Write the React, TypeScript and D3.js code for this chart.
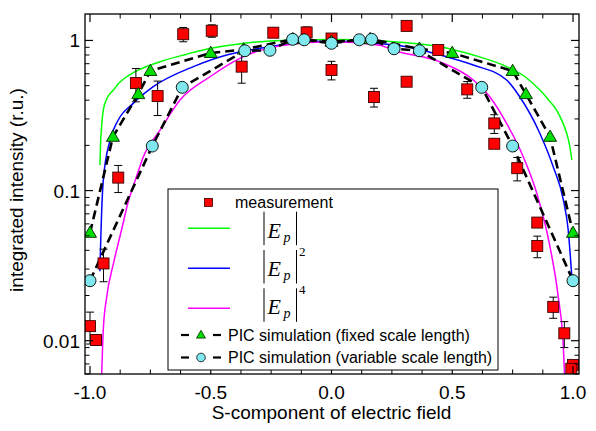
import React from "react";
import * as d3 from "d3";

// Measured integrated intensity with error bars
const measX = [-1.0, -0.975, -0.944, -0.883, -0.81, -0.72, -0.614, -0.496, -0.372, -0.241, -0.103, 0.0, 0.0, 0.176, 0.311, 0.311, 0.442, 0.562, 0.674, 0.674, 0.769, 0.852, 0.852, 0.918, 0.964, 1.0, 0.993];
const measY = [0.0125, 0.0101, 0.0327, 0.122, 0.52, 0.426, 1.1, 1.16, 0.669, 1.126, 1.13, 1.03, 0.636, 0.42, 1.25, 0.531, 0.864, 0.472, 0.28, 0.205, 0.141, 0.0612, 0.0427, 0.0168, 0.0112, 0.0069, 0.0065];
const measErr = [0.003, 0.0008, 0.008, 0.025, 0.13, 0.11, 0.12, 0.11, 0.15, 0.05, 0.1, 0.05, 0.09, 0.06, 0.04, 0.03, 0.05, 0.06, 0.04, 0.01, 0.025, 0.003, 0.007, 0.0027, 0.0022, 0.0004, 0.0004];

// PIC simulation, fixed scale length
const fixedX = [-1.0, -0.905, -0.8, -0.75, -0.5, -0.364, -0.16, 0.0, 0.16, 0.364, 0.5, 0.75, 0.805, 0.905, 1.0];
const fixedY = [0.0523, 0.228, 0.439, 0.626, 0.825, 0.87, 1.02, 0.98, 1.02, 0.88, 0.825, 0.626, 0.439, 0.228, 0.0523];

// PIC simulation, variable scale length
const varX = [-1.0, -0.742, -0.618, -0.359, -0.255, -0.161, -0.113, 0.0, 0.115, 0.166, 0.259, 0.364, 0.622, 0.75, 1.0];
const varY = [0.0251, 0.198, 0.487, 0.854, 0.86, 1.017, 1.01, 0.957, 1.01, 1.017, 0.88, 0.854, 0.487, 0.198, 0.0251];

// |Ep|
const ep1X = [-0.959, -0.956, -0.952, -0.945, -0.93, -0.903, -0.88, -0.848, -0.8, -0.71, -0.6, -0.5, -0.4, -0.296, -0.2, -0.1, 0.0, 0.1, 0.2, 0.311, 0.449, 0.587, 0.725, 0.8, 0.863, 0.9, 0.932, 0.955, 0.974, 0.986, 0.995];
const ep1Y = [0.148, 0.21, 0.266, 0.343, 0.41, 0.467, 0.52, 0.573, 0.635, 0.722, 0.81, 0.886, 0.94, 0.981, 1.0, 1.01, 1.015, 1.01, 0.995, 0.965, 0.909, 0.8, 0.669, 0.575, 0.467, 0.4, 0.343, 0.29, 0.24, 0.2, 0.16];

// |Ep|^2
const ep2X = [-0.959, -0.955, -0.952, -0.945, -0.917, -0.883, -0.821, -0.738, -0.572, -0.434, -0.296, -0.15, 0.0, 0.15, 0.311, 0.449, 0.587, 0.725, 0.78, 0.863, 0.918, 0.96, 0.98, 0.995];
const ep2Y = [0.029, 0.05, 0.0705, 0.117, 0.217, 0.295, 0.381, 0.492, 0.669, 0.8, 0.886, 0.96, 0.99, 0.965, 0.909, 0.8, 0.686, 0.545, 0.42, 0.24, 0.144, 0.0866, 0.0548, 0.0267];

// |Ep|^4
const ep4X = [-0.953, -0.945, -0.931, -0.903, -0.869, -0.841, -0.814, -0.779, -0.71, -0.627, -0.503, -0.365, -0.2, 0.0, 0.2, 0.256, 0.449, 0.587, 0.656, 0.725, 0.794, 0.85, 0.905, 0.939, 0.96, 0.967];
const ep4Y = [0.005, 0.0118, 0.0195, 0.0326, 0.055, 0.085, 0.115, 0.168, 0.253, 0.401, 0.573, 0.78, 0.93, 0.98, 0.93, 0.86, 0.72, 0.545, 0.42, 0.28, 0.168, 0.096, 0.042, 0.0195, 0.0091, 0.005];

const xTicks = [-1.0, -0.5, 0.0, 0.5, 1.0];
const xTickLabels = ["-1.0", "-0.5", "0.0", "0.5", "1.0"];
const yTicks = [0.01, 0.1, 1];
const yTickLabels = ["0.01", "0.1", "1"];

const SANS = "Arial, 'Liberation Sans', Helvetica, sans-serif";
const SERIF = "'Times New Roman', 'Liberation Serif', serif";

const GREEN = "#00ff00";
const BLUE = "#0000ff";
const MAGENTA = "#ff00ff";
const SQ_FILL = "#ff0000";
const TRI_FILL = "#00dd00";
const CIR_FILL = "#7fe8ee";

const L = 85, R = 579, T = 14, B = 374;

function tri(cx: number, cy: number, s: number) {
  const h = s * 0.866;
  return `M${cx},${cy - h * 0.6}L${cx + s / 2},${cy + h * 0.4}L${cx - s / 2},${cy + h * 0.4}Z`;
}

export default function App() {
  const x = d3.scaleLinear().domain([-1.0207, 1.0248]).range([L, R]);
  const y = d3.scaleLog().domain([0.006, 1.5]).range([B, T]);

  const pts = (xs: number[], ys: number[]) => xs.map((v, i) => [v, ys[i]] as [number, number]);
  const curve = d3.line<[number, number]>().x(d => x(d[0])).y(d => y(d[1])).curve(d3.curveMonotoneX);
  const straight = d3.line<[number, number]>().x(d => x(d[0])).y(d => y(d[1]));

  const xMinor = d3.range(-1, 1.0001, 0.125).filter(v => !xTicks.some(t => Math.abs(t - v) < 1e-6));
  const yMinor: number[] = [];
  [0.001, 0.01, 0.1].forEach(dec => {
    for (let k = 2; k <= 9; k++) {
      const v = dec * k;
      if (v >= 0.006 && v <= 1.5) yMinor.push(v);
    }
  });

  const sq = 11;

  return (
    <div style={{ position: "absolute", left: 0, top: 0 }}>
      <svg width={596} height={431} style={{ display: "block", background: "#fff" }}>
        <defs>
          <clipPath id="plotArea">
            <rect x={L} y={T} width={R - L} height={B - T} />
          </clipPath>
        </defs>

        <g clipPath="url(#plotArea)">
          <path d={curve(pts(ep1X, ep1Y)) || ""} fill="none" stroke={GREEN} strokeWidth={1.5} />
          <path d={curve(pts(ep2X, ep2Y)) || ""} fill="none" stroke={BLUE} strokeWidth={1.5} />
          <path d={curve(pts(ep4X, ep4Y)) || ""} fill="none" stroke={MAGENTA} strokeWidth={1.5} />
          <path d={straight(pts(fixedX, fixedY)) || ""} fill="none" stroke="#000" strokeWidth={2.6} strokeDasharray="9 5" />
          <path d={straight(pts(varX, varY)) || ""} fill="none" stroke="#000" strokeWidth={2.6} strokeDasharray="9 5" />

          {measX.map((mx, i) => {
            const cx = x(mx);
            const top = y(measY[i] + measErr[i]);
            const lo = measY[i] - measErr[i];
            const bot = lo > 0.006 ? y(lo) : B + 5;
            return (
              <g key={"e" + i} stroke="#000" strokeWidth={1}>
                <line x1={cx} x2={cx} y1={top} y2={bot} />
                <line x1={cx - 4} x2={cx + 4} y1={top} y2={top} />
                <line x1={cx - 4} x2={cx + 4} y1={bot} y2={bot} />
              </g>
            );
          })}
          {measX.map((mx, i) => (
            <rect key={"m" + i} x={x(mx) - sq / 2} y={y(measY[i]) - sq / 2} width={sq} height={sq}
              fill={SQ_FILL} stroke="#3a0000" strokeWidth={0.9} />
          ))}
          {fixedX.map((fx, i) => (
            <path key={"t" + i} d={tri(x(fx), y(fixedY[i]), 13)} fill={TRI_FILL} stroke="#002800" strokeWidth={0.9} />
          ))}
          {varX.map((vx, i) => (
            <circle key={"c" + i} cx={x(vx)} cy={y(varY[i])} r={6} fill={CIR_FILL} stroke="#000" strokeWidth={0.9} />
          ))}
        </g>

        {/* frame */}
        <rect x={L} y={T} width={R - L} height={B - T} fill="none" stroke="#000" strokeWidth={1.3} />

        {/* x ticks, bottom and top */}
        {xTicks.map(t => (
          <g key={"xt" + t} stroke="#000" strokeWidth={1.2}>
            <line x1={x(t)} x2={x(t)} y1={B} y2={B - 8} />
            <line x1={x(t)} x2={x(t)} y1={T} y2={T + 8} />
          </g>
        ))}
        {xMinor.map(t => (
          <g key={"xm" + t} stroke="#000" strokeWidth={1}>
            <line x1={x(t)} x2={x(t)} y1={B} y2={B - 4.5} />
            <line x1={x(t)} x2={x(t)} y1={T} y2={T + 4.5} />
          </g>
        ))}
        {xTicks.map((t, i) => (
          <text key={"xl" + t} x={x(t)} y={399} textAnchor="middle" fontFamily={SANS} fontSize={19}>{xTickLabels[i]}</text>
        ))}

        {/* y ticks, left and right */}
        {yTicks.map(t => (
          <g key={"yt" + t} stroke="#000" strokeWidth={1.2}>
            <line x1={L} x2={L + 8} y1={y(t)} y2={y(t)} />
            <line x1={R} x2={R - 8} y1={y(t)} y2={y(t)} />
          </g>
        ))}
        {yMinor.map(t => (
          <g key={"ym" + t} stroke="#000" strokeWidth={1}>
            <line x1={L} x2={L + 4.5} y1={y(t)} y2={y(t)} />
            <line x1={R} x2={R - 4.5} y1={y(t)} y2={y(t)} />
          </g>
        ))}
        {yTicks.map((t, i) => (
          <text key={"yl" + t} x={80} y={y(t) + 7} textAnchor="end" fontFamily={SANS} fontSize={19}>{yTickLabels[i]}</text>
        ))}

        {/* axis titles */}
        <text x={x(0)} y={419} textAnchor="middle" fontFamily={SANS} fontSize={19}>S-component of electric field</text>
        <text transform="translate(23, 190) rotate(-90)" textAnchor="middle" fontFamily={SANS} fontSize={19}>integrated intensity (r.u.)</text>

        {/* legend */}
        <g>
          <rect x={168} y={189} width={330} height={181} fill="#fff" stroke="#000" strokeWidth={1} />
          <rect x={204.5} y={198.5} width={8} height={8} fill={SQ_FILL} stroke="#3a0000" strokeWidth={0.8} />
          <text x={235} y={207.5} fontFamily={SANS} fontSize={16}>measurement</text>

          {[{ c: GREEN, yy: 228.3, sup: "" }, { c: BLUE, yy: 268.3, sup: "2" }, { c: MAGENTA, yy: 308.3, sup: "4" }].map((e, i) => {
            const top = 211.7 + i * 38.3;
            return (
              <g key={"lg" + i}>
                <line x1={188} x2={230} y1={e.yy} y2={e.yy} stroke={e.c} strokeWidth={1.5} />
                <line x1={264} x2={264} y1={top} y2={top + 33.5} stroke="#000" strokeWidth={1} />
                <line x1={296.5} x2={296.5} y1={top} y2={top + 33.5} stroke="#000" strokeWidth={1} />
                <text x={267.5} y={top + 25.8} fontFamily={SERIF} fontStyle="italic" fontSize={22}>E</text>
                <text x={283.5} y={top + 30} fontFamily={SERIF} fontStyle="italic" fontSize={14}>p</text>
                {e.sup && (
                  <text x={299} y={top + 6} fontFamily={SERIF} fontSize={13}>{e.sup}</text>
                )}
              </g>
            );
          })}

          <line x1={181} x2={189} y1={335} y2={335} stroke="#000" strokeWidth={2.2} />
          <line x1={213} x2={221} y1={335} y2={335} stroke="#000" strokeWidth={2.2} />
          <path d={tri(201, 335, 9)} fill={TRI_FILL} stroke="#002800" strokeWidth={0.8} />
          <text x={228} y={341} fontFamily={SANS} fontSize={16}>PIC simulation (fixed scale length)</text>

          <line x1={181} x2={189} y1={357.5} y2={357.5} stroke="#000" strokeWidth={2.2} />
          <line x1={213} x2={221} y1={357.5} y2={357.5} stroke="#000" strokeWidth={2.2} />
          <circle cx={201} cy={357.5} r={4.3} fill={CIR_FILL} stroke="#000" strokeWidth={0.8} />
          <text x={228} y={363} fontFamily={SANS} fontSize={16}>PIC simulation (variable scale length)</text>
        </g>
      </svg>
    </div>
  );
}
